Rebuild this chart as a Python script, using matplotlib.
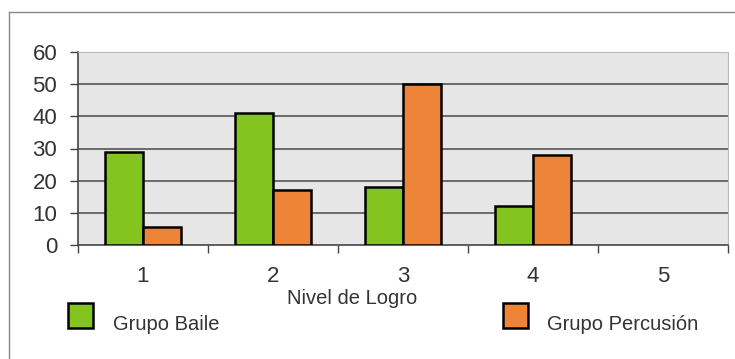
import matplotlib
matplotlib.use("Agg")
import matplotlib.pyplot as plt
from matplotlib.patches import Rectangle
from matplotlib.lines import Line2D
import numpy as np

# Data
niveles = [1, 2, 3, 4, 5]
grupo_baile = [29, 41, 18, 12, 0]
grupo_percusion = [5.5, 17, 50, 28, 0]
series_names = ["Grupo Baile", "Grupo Percusión"]
yticks = [0, 10, 20, 30, 40, 50, 60]

green = "#84c41f"
orange = "#ee8438"

plt.rcParams["font.family"] = ["Liberation Sans", "DejaVu Sans"]

fig = plt.figure(figsize=(7.35, 3.59), dpi=100)
ax = fig.add_axes([78 / 735, 1 - 245 / 359, 650 / 735, 193 / 359])
ax.set_facecolor("#e6e6e6")

x = np.array(niveles)
w = 0.29
for offset, vals, col in [(-w / 2, grupo_baile, green), (w / 2, grupo_percusion, orange)]:
    vals = np.array(vals, dtype=float)
    keep = vals > 0
    ax.bar(x[keep] + offset, vals[keep], width=w, color=col, edgecolor="black", linewidth=1.8, zorder=3)

ax.set_xlim(0.5, 5.5)
ax.set_ylim(0, 60)
ax.set_yticks(yticks)
ax.set_xticks(niveles)
ax.set_xticks(np.arange(0.5, 6.0, 1.0), minor=True)
ax.tick_params(axis="x", which="major", length=0, pad=15, labelsize=16, labelcolor="#333")
ax.tick_params(axis="x", which="minor", length=6, width=1, color="#444")
ax.tick_params(axis="y", length=6, width=1, color="#444", pad=9, labelsize=16, labelcolor="#333")

for v in yticks[1:-1]:
    ax.axhline(v, color="#555555", linewidth=1.2, zorder=1)

ax.spines["left"].set_color("#444")
ax.spines["bottom"].set_color("#444")
ax.spines["left"].set_linewidth(1.2)
ax.spines["bottom"].set_linewidth(1.2)
ax.spines["top"].set_color("#bbbbbb")
ax.spines["right"].set_color("#bbbbbb")

fig.text(352 / 735, 1 - 298 / 359, "Nivel de Logro", ha="center", va="center", fontsize=14.5, color="#333")

# legend entries
for (px, tx, col, name) in [(68, 113, green, series_names[0]), (503, 547, orange, series_names[1])]:
    fig.patches.append(Rectangle((px / 735, 1 - 328 / 359), 25 / 735, 25 / 359,
                                 transform=fig.transFigure, facecolor=col, edgecolor="black", linewidth=1.8))
    fig.text(tx / 735, 1 - 324 / 359, name, ha="left", va="center", fontsize=14.5, color="#333")

# outer frame
fig.lines.append(Line2D([9 / 735, 1], [1 - 12 / 359, 1 - 12 / 359], transform=fig.transFigure, color="#888", linewidth=1))
fig.lines.append(Line2D([9 / 735, 9 / 735], [0, 1 - 12 / 359], transform=fig.transFigure, color="#888", linewidth=1))

fig.savefig("out.png", dpi=100)
